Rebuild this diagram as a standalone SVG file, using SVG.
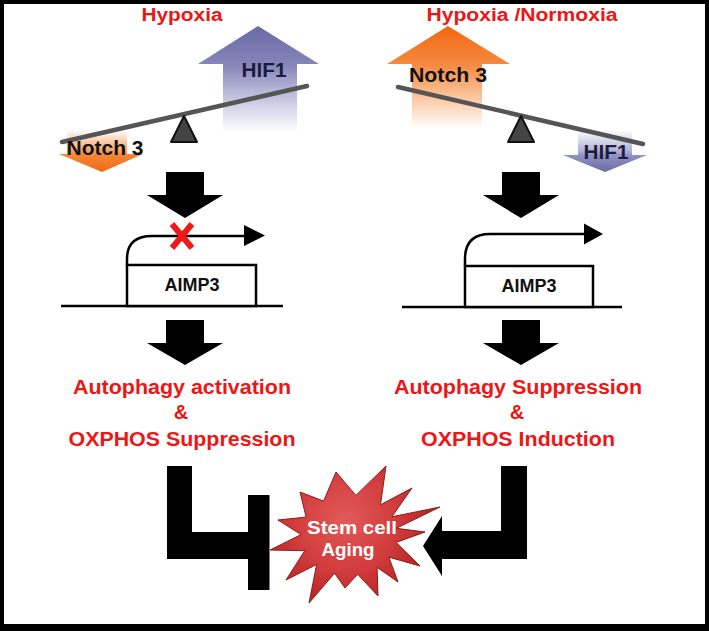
<svg xmlns="http://www.w3.org/2000/svg" width="709" height="631" viewBox="0 0 709 631">
<defs>
<linearGradient id="gHifUp" gradientUnits="userSpaceOnUse" x1="0" y1="26" x2="0" y2="132">
<stop offset="0" stop-color="#6a6aa6"/><stop offset="0.36" stop-color="#8585b8"/><stop offset="0.7" stop-color="#c8c8e2"/><stop offset="1" stop-color="#ffffff"/>
</linearGradient>
<linearGradient id="gNotchUp" gradientUnits="userSpaceOnUse" x1="0" y1="26" x2="0" y2="128">
<stop offset="0" stop-color="#f26710"/><stop offset="0.38" stop-color="#f58a40"/><stop offset="0.72" stop-color="#fbcaa5"/><stop offset="1" stop-color="#ffffff"/>
</linearGradient>
<linearGradient id="gNotchDown" gradientUnits="userSpaceOnUse" x1="0" y1="130" x2="0" y2="172">
<stop offset="0" stop-color="#ffffff"/><stop offset="0.5" stop-color="#f7a060"/><stop offset="0.6" stop-color="#f58535"/><stop offset="1" stop-color="#f26a10"/>
</linearGradient>
<linearGradient id="gHifDown" gradientUnits="userSpaceOnUse" x1="0" y1="130" x2="0" y2="172">
<stop offset="0" stop-color="#ffffff"/><stop offset="0.5" stop-color="#b0b0d4"/><stop offset="0.6" stop-color="#9292c2"/><stop offset="1" stop-color="#6a6aa6"/>
</linearGradient>
<radialGradient id="gStar" gradientUnits="userSpaceOnUse" cx="345" cy="520" r="85">
<stop offset="0" stop-color="#e25a5a"/><stop offset="0.6" stop-color="#d23c3c"/><stop offset="1" stop-color="#b52626"/>
</radialGradient>
</defs>
<style>
.title{font-family:"Liberation Sans",Arial,sans-serif;font-weight:bold;fill:#ee1515;text-anchor:middle;}
.lbl{font-family:"Liberation Sans",Arial,sans-serif;font-weight:bold;fill:#111;text-anchor:middle;font-size:20px;}
.hif{fill:#1c1c40;}
.gene{font-family:"Liberation Sans",Arial,sans-serif;font-weight:bold;fill:#111;text-anchor:middle;font-size:18px;}
.res{font-family:"Liberation Sans",Arial,sans-serif;font-weight:bold;fill:#ee1515;text-anchor:middle;font-size:20px;}
.beam{stroke:#555;stroke-width:4.5;stroke-linecap:round;}
.fulcrum{fill:#444;stroke:#111;stroke-width:2;stroke-linejoin:round;}
.box{fill:#fff;stroke:#000;stroke-width:2.5;}
.dna{stroke:#000;stroke-width:2.5;fill:none;}
.blk{fill:#000;}
.star{font-family:"Liberation Sans",Arial,sans-serif;font-weight:bold;fill:#fff;text-anchor:middle;font-size:18px;}
</style>
<rect x="0" y="0" width="709" height="631" fill="#000"/>
<rect x="4" y="4" width="701" height="620" fill="#fff"/>

<g id="left-condition">
<text class="title" x="182" y="21" font-size="18" textLength="81" lengthAdjust="spacingAndGlyphs">Hypoxia</text>
</g>
<g id="right-condition">
<text class="title" x="522" y="21" font-size="18" textLength="191" lengthAdjust="spacingAndGlyphs">Hypoxia /Normoxia</text>
</g>

<g id="left-balance">
<path d="M258,26 L319,64 L297,64 L297,132 L223,132 L223,64 L198,64 Z" fill="url(#gHifUp)"/>
<path d="M67,131 L127,131 L127,154 L143,154 L102,172 L59,154 L67,154 Z" fill="url(#gNotchDown)"/>
<line class="beam" x1="62" y1="142" x2="307" y2="86"/>
<path class="fulcrum" d="M184,116 L197,142 L171,142 Z"/>
<text class="lbl hif" x="264" y="77" textLength="45" lengthAdjust="spacingAndGlyphs">HIF1</text>
<text class="lbl" x="105" y="155" textLength="77" lengthAdjust="spacingAndGlyphs">Notch 3</text>
</g>

<g id="right-balance">
<path d="M448,26 L510,64 L482,64 L482,130 L412,130 L412,64 L387,64 Z" fill="url(#gNotchUp)"/>
<path d="M578,131 L632,131 L632,155 L647,155 L605,172 L563,155 L578,155 Z" fill="url(#gHifDown)"/>
<line class="beam" x1="398" y1="87" x2="643" y2="144"/>
<path class="fulcrum" d="M521,116 L534,142 L508,142 Z"/>
<text class="lbl" x="448" y="82" textLength="78" lengthAdjust="spacingAndGlyphs">Notch 3</text>
<text class="lbl hif" x="606" y="159" textLength="45" lengthAdjust="spacingAndGlyphs">HIF1</text>
</g>

<g id="left-gene">
<line class="dna" x1="61" y1="306" x2="283" y2="306"/>
<rect class="box" x="127" y="265" width="129" height="41"/>
<path class="dna" d="M127,265 V259 Q127,236 152,236 H245"/>
<path d="M244,225 L265,235.5 L244,246 Z" fill="#000"/>
<path d="M172,224 L192,248 M192,224 L172,248" stroke="#f01818" stroke-width="6"/>
<text class="gene" x="192" y="291" textLength="55" lengthAdjust="spacingAndGlyphs">AIMP3</text>
</g>

<g id="right-gene">
<line class="dna" x1="402" y1="307" x2="622" y2="307"/>
<rect class="box" x="465" y="266" width="128" height="41"/>
<path class="dna" d="M465,266 V259 Q465,234 490,234 H586"/>
<path d="M584,223.5 L603,234 L584,244.5 Z" fill="#000"/>
<text class="gene" x="529" y="292" textLength="55" lengthAdjust="spacingAndGlyphs">AIMP3</text>
</g>

<g id="left-outcome">
<text class="res" x="182" y="394" textLength="218" lengthAdjust="spacingAndGlyphs">Autophagy activation</text>
<text class="res" x="181" y="419">&amp;</text>
<text class="res" x="182" y="446" textLength="227" lengthAdjust="spacingAndGlyphs">OXPHOS Suppression</text>
</g>
<g id="right-outcome">
<text class="res" x="518" y="394" textLength="248" lengthAdjust="spacingAndGlyphs">Autophagy Suppression</text>
<text class="res" x="517" y="419">&amp;</text>
<text class="res" x="518" y="446" textLength="194" lengthAdjust="spacingAndGlyphs">OXPHOS Induction</text>
</g>

<g id="stem-cell-aging">
<path d="M386,466 L380.5,504.8 L412,488 L391.8,516.8 L440,507 L396.3,528.3 L425,532 L396.2,542.4 L420,566 L388.9,557.2 L398,582 L377.1,567.4 L378,596 L357.7,574.3 L345,588 L334.6,573.2 L309,603 L316.6,564.5 L286,580 L304.8,550.7 L270,550 L301,534.6 L278,520 L306.1,517.1 L300,492 L323.6,501.1 L336,472 L355.9,495.4 Z" fill="url(#gStar)" stroke="#8e1c1c" stroke-width="1" stroke-linejoin="round"/>
<text class="star" x="352" y="534" textLength="90" lengthAdjust="spacingAndGlyphs">Stem cell</text>
<text class="star" x="348" y="556" textLength="53" lengthAdjust="spacingAndGlyphs">Aging</text>
</g>

<g id="connectors">
<path class="blk" d="M166,172 H204 V195 H223 L185,218 L147,195 H166 Z"/>
<path class="blk" d="M502,172 H540 V195 H559 L521,218 L483,195 H502 Z"/>
<path class="blk" d="M166,320 H204 V343 H223 L185,365 L147,343 H166 Z"/>
<path class="blk" d="M502,320 H540 V343 H559 L521,365 L483,343 H502 Z"/>
<path class="blk" d="M167,466 H192 V532 H248 V559 H167 Z"/>
<rect class="blk" x="248" y="495" width="21.5" height="95"/>
<path class="blk" d="M501,466 H527 V559 H442 V576 L423,546 L442,516 V531 H501 Z"/>
</g>
</svg>
